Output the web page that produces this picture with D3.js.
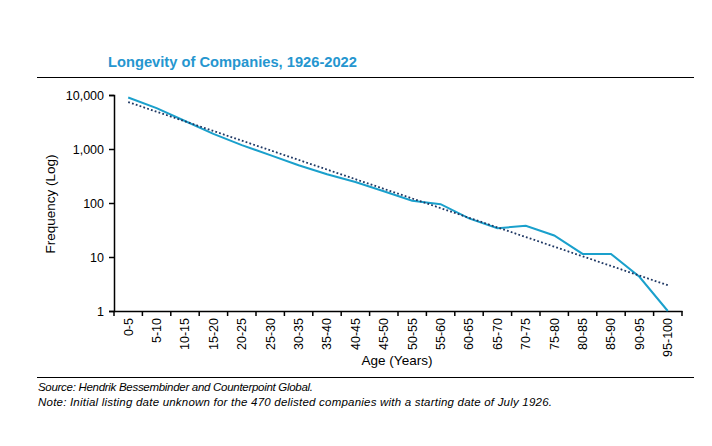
<!DOCTYPE html>
<html><head><meta charset="utf-8">
<script src="https://cdn.jsdelivr.net/npm/d3@7"></script>
<style>
html,body{margin:0;padding:0;background:#fff;}
svg{display:block;font-family:"Liberation Sans",Arial,sans-serif;}
</style></head>
<body><svg id="c" width="712" height="446"></svg>
<script>
const categories = ["0-5","5-10","10-15","15-20","20-25","25-30","30-35","35-40","40-45","45-50","50-55","55-60","60-65","65-70","70-75","75-80","80-85","85-90","90-95","95-100"];
const frequency = [9000,5700,3300,1900,1180,770,500,340,245,165,110,95,52,34,38,25,11.4,11.4,4.3,1];
const trendEnds = [7400, 3.0];
const yTicks = [1,10,100,1000,10000];
const titleText = "Longevity of Companies, 1926-2022";
const notes = ["Source: Hendrik Bessembinder and Counterpoint Global.",
  "Note: Initial listing date unknown for the 470 delisted companies with a starting date of July 1926."];

const svg = d3.select("#c");
const x = d3.scaleBand().domain(categories).range([114, 682]).padding(0);
const y = d3.scaleLog().domain([1, 10000]).range([311, 95]);

// title
svg.append("text").attr("x",108).attr("y",67).attr("fill","#2596cf")
  .attr("font-size",14.7).attr("font-weight","bold").text(titleText);
svg.append("line").attr("x1",37).attr("x2",694).attr("y1",77.5).attr("y2",77.5)
  .attr("stroke","#000").attr("stroke-width",1.2);

// y axis
const ya = svg.append("g").attr("transform","translate(114,0)")
  .call(d3.axisLeft(y).tickValues(yTicks).tickFormat(d3.format(",")).tickSize(5).tickPadding(5));
ya.select(".domain").attr("stroke","#000").attr("stroke-width",1.5);
ya.selectAll(".tick line").attr("stroke","#000").attr("stroke-width",1.5);
ya.selectAll("text").attr("font-size",12.5).attr("fill","#000").attr("font-family","Liberation Sans, Arial, sans-serif");

// x axis
const xa = svg.append("g").attr("transform","translate(0,311)")
  .call(d3.axisBottom(x).tickSize(0).tickPadding(6));
xa.select(".domain").attr("stroke","#000").attr("stroke-width",1.5);
xa.selectAll("text").attr("font-size",12.5).attr("fill","#000")
  .attr("font-family","Liberation Sans, Arial, sans-serif")
  .attr("transform","rotate(-90)").attr("text-anchor","end")
  .attr("x",-7).attr("y",0).attr("dy","0.35em");
// boundary ticks
const bounds = categories.map(c => x(c)).concat([x.range()[1]]);
svg.append("g").selectAll("line").data(bounds).join("line")
  .attr("x1",d=>d).attr("x2",d=>d).attr("y1",311).attr("y2",316)
  .attr("stroke","#000").attr("stroke-width",1.5);

// axis titles
svg.append("text").attr("transform","translate(55,204) rotate(-90)").attr("text-anchor","middle")
  .attr("font-size",13.5).attr("fill","#000").text("Frequency (Log)");
svg.append("text").attr("x",397).attr("y",365).attr("text-anchor","middle")
  .attr("font-size",13.5).attr("fill","#000").text("Age (Years)");

const cx = c => x(c) + x.bandwidth()/2;
// data line
svg.append("path").datum(frequency)
  .attr("fill","none").attr("stroke","#1aa0cc").attr("stroke-width",2)
  .attr("d", d3.line().x((d,i)=>cx(categories[i])).y(d=>y(d)));
// trend line
svg.append("path").datum([[categories[0],trendEnds[0]],[categories[categories.length-1],trendEnds[1]]])
  .attr("fill","none").attr("stroke","#1f3864").attr("stroke-width",1.8)
  .attr("stroke-dasharray","1.8,2.2")
  .attr("d", d3.line().x(d=>cx(d[0])).y(d=>y(d[1])));

// footer
svg.append("line").attr("x1",37).attr("x2",694).attr("y1",377.5).attr("y2",377.5)
  .attr("stroke","#000").attr("stroke-width",1.2);
const noteLen = [275, 514];
svg.append("g").selectAll("text").data(notes).join("text")
  .attr("x",38).attr("y",(d,i)=>391+i*15).attr("font-size",11.5).attr("font-style","italic")
  .attr("textLength",(d,i)=>noteLen[i]).attr("lengthAdjust","spacing")
  .attr("fill","#000").text(d=>d);
</script></body></html>
